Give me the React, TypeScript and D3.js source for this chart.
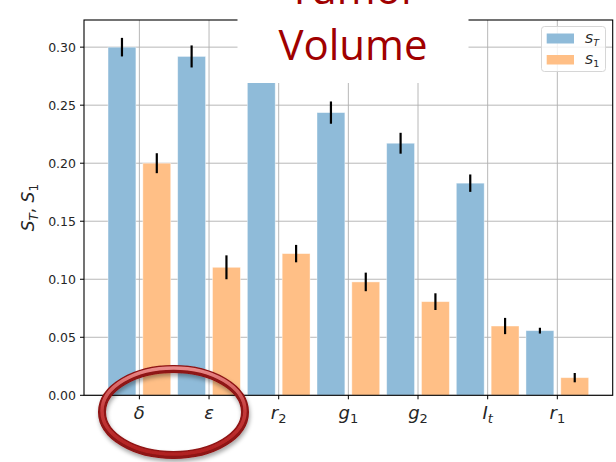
import React from "react";
import * as d3 from "d3";

// Sobol sensitivity indices for each model parameter
const params = ["δ", "ε", "r", "g", "g", "I", "r"];
const paramSubs = ["", "", "2", "1", "2", "t", "1"];
const totalIdx = [0.300, 0.292, 0.285, 0.2436, 0.2172, 0.1828, 0.0557];
const totalErr = [0.008, 0.0095, 0.009, 0.0096, 0.009, 0.0075, 0.0025];
const firstIdx = [0.200, 0.1103, 0.1221, 0.0977, 0.0807, 0.0597, 0.0152];
const firstErr = [0.0086, 0.0103, 0.0075, 0.008, 0.0072, 0.007, 0.004];
const yTicks = [0, 0.05, 0.1, 0.15, 0.2, 0.25, 0.3];

const W = 616;
const H = 462;
const left = 84;
const right = 612.7;
const top = 20;
const bottom = 395.3;

const BLUE = "#8fbbd9";
const ORANGE = "#ffbf86";
const FONT = "DejaVu Sans";

export default function App() {
  const barW = 0.4;
  const off = 0.25;
  const xMin = -off - barW / 2;
  const xMax = params.length - 1 + off + barW / 2;
  const xPad = (xMax - xMin) * 0.05;
  const x = d3.scaleLinear().domain([xMin - xPad, xMax + xPad]).range([left, right]);
  const yMaxData = d3.max([
    ...totalIdx.map((v, i) => v + totalErr[i]),
    ...firstIdx.map((v, i) => v + firstErr[i]),
  ]) as number;
  const y = d3.scaleLinear().domain([0, yMaxData * 1.05]).range([bottom, top]);
  const pw = x(barW) - x(0);

  const series = [
    { vals: totalIdx, errs: totalErr, color: BLUE, dx: -off },
    { vals: firstIdx, errs: firstErr, color: ORANGE, dx: off },
  ];

  return (
    <svg width={W} height={H} style={{ position: "absolute", left: 0, top: 0 }} fontFamily={FONT}>
      <defs>
        <filter id="shadow" x="-20%" y="-20%" width="140%" height="150%">
          <feDropShadow dx="1" dy="3" stdDeviation="2" floodColor="#000" floodOpacity="0.35" />
        </filter>
        <linearGradient id="ring" x1="0" y1="0" x2="0" y2="1">
          <stop offset="0" stopColor="#e98a8a" />
          <stop offset="0.5" stopColor="#c43a3a" />
          <stop offset="1" stopColor="#b02020" />
        </linearGradient>
      </defs>
      <rect width={W} height={H} fill="#fff" />

      {/* grid */}
      {yTicks.map((t) => (
        <line key={"gy" + t} x1={left} x2={right} y1={y(t)} y2={y(t)} stroke="#b0b0b0" strokeWidth={0.9} />
      ))}
      {params.map((_, i) => (
        <line key={"gx" + i} x1={x(i)} x2={x(i)} y1={top} y2={bottom} stroke="#b0b0b0" strokeWidth={0.9} />
      ))}

      {/* bars */}
      {series.map((s, si) =>
        s.vals.map((v, i) => (
          <rect
            key={`b${si}-${i}`}
            x={x(i + s.dx - barW / 2)}
            width={pw}
            y={y(v)}
            height={y(0) - y(v)}
            fill={s.color}
            stroke="#fff"
            strokeOpacity={0.5}
            strokeWidth={0.8}
          />
        ))
      )}

      {/* error bars */}
      {series.map((s, si) =>
        s.vals.map((v, i) => (
          <line
            key={`e${si}-${i}`}
            x1={x(i + s.dx)}
            x2={x(i + s.dx)}
            y1={y(v - s.errs[i])}
            y2={y(v + s.errs[i])}
            stroke="#000"
            strokeWidth={2.2}
          />
        ))
      )}

      {/* frame */}
      <rect x={left} y={top} width={right - left} height={bottom - top} fill="none" stroke="#000" strokeWidth={1.1} />

      {/* y axis */}
      {yTicks.map((t) => (
        <g key={"ty" + t}>
          <line x1={left - 4} x2={left} y1={y(t)} y2={y(t)} stroke="#000" strokeWidth={1} />
          <text x={left - 8} y={y(t)} dy="0.35em" textAnchor="end" fontSize={12.5} fill="#262626">
            {d3.format(".2f")(t)}
          </text>
        </g>
      ))}
      <text
        transform={`translate(34,${(top + bottom) / 2}) rotate(-90)`}
        textAnchor="middle"
        fontSize={17}
        fill="#262626"
      >
        <tspan fontStyle="italic">S</tspan>
        <tspan fontStyle="italic" fontSize={12} dy={4}>T</tspan>
        <tspan dy={-4}>, </tspan>
        <tspan fontStyle="italic">S</tspan>
        <tspan fontSize={12} dy={4}>1</tspan>
      </text>

      {/* x axis */}
      {params.map((p, i) => (
        <g key={"tx" + i}>
          <line x1={x(i)} x2={x(i)} y1={bottom} y2={bottom + 4} stroke="#000" strokeWidth={1} />
          <text x={x(i)} y={bottom + 24} textAnchor="middle" fontSize={18} fill="#262626">
            <tspan fontStyle="italic">{p}</tspan>
            {paramSubs[i] && (
              <tspan fontSize={13} dy={4} fontStyle={/[0-9]/.test(paramSubs[i]) ? "normal" : "italic"}>
                {paramSubs[i]}
              </tspan>
            )}
          </text>
        </g>
      ))}

      {/* legend */}
      <g>
        <rect x={541.5} y={26.5} width={64} height={45} rx={3} fill="#fff" fillOpacity={0.8} stroke="#d6d6d6" />
        <rect x={546.7} y={33.5} width={27.3} height={10} fill={BLUE} />
        <rect x={546.7} y={55} width={27.3} height={9.5} fill={ORANGE} />
        <text x={585} y={43} fontSize={13} fill="#262626">
          <tspan fontStyle="italic">S</tspan>
          <tspan fontStyle="italic" fontSize={9.5} dy={3}>T</tspan>
        </text>
        <text x={585} y={64} fontSize={13} fill="#262626">
          <tspan fontStyle="italic">S</tspan>
          <tspan fontSize={9.5} dy={3}>1</tspan>
        </text>
      </g>

      {/* title block */}
      <rect x={237.5} y={0} width={231} height={83} fill="#fff" />
      <text x={353} y={4} textAnchor="middle" fontFamily="Open Sans" fontSize={42} fill="#a00000">
        Tumor
      </text>
      <text x={353} y={60} textAnchor="middle" fontFamily="Open Sans" fontSize={42} fill="#a00000">
        Volume
      </text>

      {/* highlight ring */}
      <g filter="url(#shadow)">
        <ellipse cx={173.5} cy={412} rx={71.5} ry={43} fill="none" stroke="#8e1212" strokeWidth={8} />
        <ellipse cx={173.5} cy={411} rx={71.5} ry={43} fill="none" stroke="url(#ring)" strokeWidth={3.5} />
      </g>
    </svg>
  );
}
